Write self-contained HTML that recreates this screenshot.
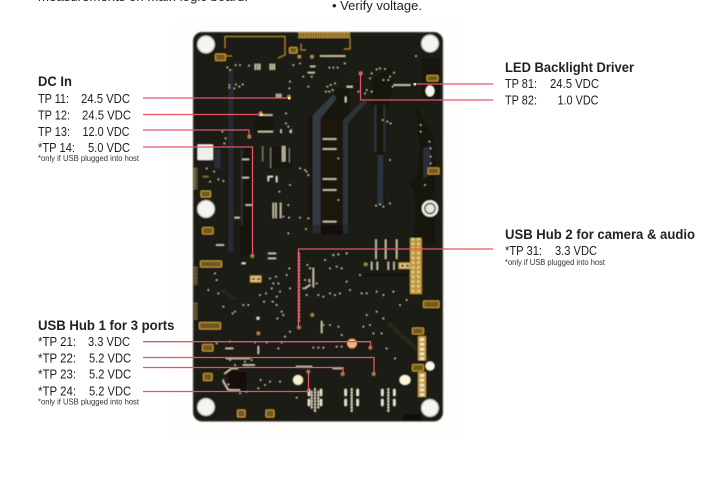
<!DOCTYPE html>
<html>
<head>
<meta charset="utf-8">
<style>
html,body{margin:0;padding:0;background:#fff;width:713px;height:481px;overflow:hidden}
svg{display:block}
text{font-family:"Liberation Sans",sans-serif;fill:#1e1e1e}
.h{font-size:14px;font-weight:bold;fill:#222}
.t{font-size:13px}
.f{font-size:8px;fill:#333}
.r{fill:none;stroke:#e6536a;stroke-width:1.300}
.g{fill:#6f5a24;stroke:#c8982f;stroke-width:1.100}
.c{fill:#d9c78c;stroke:#c8982f;stroke-width:1}
</style>
</head>
<body>
<svg width="713" height="481" viewBox="0 0 713 481" xmlns="http://www.w3.org/2000/svg">
<defs><filter id="b" x="-5%" y="-5%" width="110%" height="110%"><feGaussianBlur stdDeviation="0.45"/></filter></defs>
<rect x="172" y="22" width="292" height="416" fill="#fffefd"/>
<g filter="url(#b)">
<rect x="193" y="32" width="250" height="389.500" rx="9" fill="#1f1c13" stroke="#8c8a78" stroke-width=".6"/>

<!-- slots and dark structures, reference zoom coordinates -->
<g transform="translate(190 25) scale(.33333)">
<path d="M355 280 L445 190 L480 190 L480 600 L355 600Z" fill="#16150f"/>
<path d="M368 270 L430 208 L440 220 L392 280 L392 600 L368 600Z" fill="#343a45"/>
<path d="M459 285 L520 225 L530 232 L475 292 L475 600 L459 600Z" fill="#2d323b"/>
<path d="M392 280 L392 600 L459 600 L459 285 Z" fill="#1a1811"/>
<path d="M548 160 L605 125 L608 190 L585 290 L580 380 L585 540 L560 540 L560 385 L550 380Z" fill="#151410"/>
<path d="M552 240 L560 240 L560 380 L552 380Z M580 240 L586 240 L586 380 L580 380Z M562 390 L580 390 L580 540 L562 540Z" fill="#2b313c"/>
<path d="M115 130 L130 130 L130 600 L115 600Z" fill="#272b32"/>
<path d="M150 370 L185 370 L185 600 L150 600Z" fill="#15140f"/>
<path d="M152 370 L158 370 L158 600 L152 600Z M73 372 L92 372 L92 430 L73 430Z" fill="#2a2f37"/>
<path d="M676 240 L735 340 L735 600 L676 600 L676 510 L655 470 L680 450 L690 370Z" fill="#181710"/>
<path d="M700 370 L722 362 L722 450 L700 460Z" fill="#2a2f37"/>
<path d="M195 275 H250 V325 H195Z M240 365 H305 V430 H240Z" fill="#16150e"/>
<path d="M695 100 H750 V220 H695Z" fill="#191811"/>
</g>
<g transform="translate(190 225) scale(.33333)">
<path d="M115 0 H130 V80 H115Z M368 0 H392 V25 H368Z M459 0 H475 V25 H459Z" fill="#272b32"/>
<path d="M392 0 H459 V30 H392Z" fill="#12110c"/>
<path d="M150 0 H185 V90 H150Z M675 0 H735 V60 H675Z" fill="#15140f"/>
<path d="M600 290 L720 400 L712 408 L590 300Z M95 190 L140 220 L135 226 L90 196Z" fill="#2a281d"/>
<path d="M520 145 H650 V155 H520Z" fill="#14130e"/>
<path d="M115 440 H170 V500 H115Z" fill="#12110c"/>
</g>

<!-- gold outline / comb -->
<path d="M225 48 V36.500 H285 V48 M225 56 H232 M285 48 V55 L278 58 M301 44 V50 H306 M350 38 V49 H344" fill="none" stroke="#a8802c" stroke-width="1"/>
<rect x="298" y="32" width="52" height="6" fill="#b78f3f"/>
<path d="M298 35 H350" stroke="#4a3a18" stroke-width="4" stroke-dasharray="1 1.500"/>

<!-- gold labels -->
<rect class="g" x="215.500" y="54" width="10" height="6.500" rx="1"/>
<rect class="g" x="289.500" y="47.500" width="7.500" height="5.500" rx="1"/>
<rect class="g" x="427" y="75.500" width="11" height="5.500" rx="1"/>
<rect class="g" x="201" y="191" width="9.500" height="6" rx="1"/>
<rect class="g" x="202.500" y="227.500" width="10.500" height="6.500" rx="1"/>
<rect class="g" x="428" y="168" width="11" height="6" rx="1"/>
<rect class="g" x="200.500" y="261" width="21" height="6" rx="1"/>
<rect class="g" x="199.500" y="322.500" width="21" height="6.500" rx="1"/>
<rect class="g" x="202.500" y="344.500" width="10.500" height="6.500" rx="1"/>
<rect class="g" x="203.500" y="373.500" width="8.500" height="7" rx="1"/>
<rect class="g" x="237.500" y="410" width="7.500" height="7" rx="1"/>
<rect class="g" x="266" y="410" width="8" height="7" rx="1"/>
<rect class="g" x="423.500" y="301" width="15.500" height="6.500" rx="1"/>
<rect class="g" x="412.500" y="328" width="11" height="6" rx="1"/>
<rect class="g" x="412.500" y="364.500" width="11" height="6.500" rx="1"/>
<rect class="c" x="250.500" y="276" width="10.500" height="6"/>
<rect class="c" x="399" y="263" width="11" height="5.500"/>
<path d="M253 279h1M258 279h1M402 265.700h1M407 265.700h1" stroke="#3a3016" stroke-width="2" stroke-linecap="round"/>
<rect x="197.500" y="144.500" width="15.500" height="15.500" rx="1" fill="#f0efea"/>
<rect x="403" y="414" width="18" height="7" fill="#0b0b09"/>

<!-- header -->
<rect x="410" y="238" width="11.800" height="56" fill="#c59733"/>
<path d="M413 238V294M418.500 238V294" stroke="#d8d2b0" stroke-width="2.600" stroke-dasharray="2.300 2.400"/>
<!-- 5-pin connectors -->
<rect x="418" y="336" width="8" height="24.500" fill="#c59733"/>
<rect x="418" y="372" width="8" height="25" fill="#c59733"/>
<path d="M422 338V360M422 374V396" stroke="#e9e6d2" stroke-width="4.500" stroke-dasharray="3 1.800"/>
<!-- side pads -->
<path d="M195.500 168V190M195.500 267V285M195.500 303V320" stroke="#8a7a44" stroke-width="4" stroke-dasharray="1 1.200"/>

<!-- mounting holes -->
<g fill="#f5f4ee" stroke="#c8c6b8" stroke-width="1">
<circle cx="206" cy="44.500" r="8.500"/>
<circle cx="430" cy="43.500" r="8.500"/>
<circle cx="206" cy="209" r="8.500"/>
<circle cx="206" cy="407" r="8.500"/>
<circle cx="430" cy="408" r="8.500"/>
</g>
<circle cx="430" cy="208.500" r="7" fill="#1a1914" stroke="#efeee6" stroke-width="2.500"/>
<circle cx="430" cy="208.500" r="4.500" fill="#e8e6d8"/>
<ellipse cx="430" cy="91" rx="4.500" ry="5.500" fill="#f7f6ee"/>
<ellipse cx="298" cy="380" rx="5" ry="5" fill="#f7efc9"/>
<ellipse cx="405" cy="380" rx="5.500" ry="5" fill="#fbf6dc"/>
<circle cx="430" cy="366" r="4.500" fill="#fbf8e8"/>
<circle cx="352" cy="343.500" r="4.800" fill="#f2b784"/>

<!-- vias -->
<g transform="translate(190 25) scale(.33333)" fill="none" stroke="#d6d0b2" stroke-width="4.500" stroke-linecap="round">
<path d="M112 127h.1M120 135h.1M137 120h.1M150 120h.1M177 122h.1M118 180h.1M133 190h.1M148 185h.1M158 178h.1M118 188h.1M138 178h.1M310 120h.1M330 115h.1M300 170h.1M298 190h.1M355 185h.1M365 155h.1M340 155h.1M418 128h.1M430 128h.1M443 128h.1M464 115h.1M678 93h.1M612 143h.1M600 155h.1M595 165h.1M545 145h.1M540 160h.1M530 195h.1M505 200h.1M525 205h.1M545 200h.1M580 165h.1M570 130h.1M560 133h.1M585 132h.1M608 185h.1M692 300h.1M692 320h.1M718 350h.1M722 370h.1M722 395h.1M722 415h.1M705 480h.1M600 405h.1M600 535h.1M580 545h.1M558 542h.1M570 538h.1M445 400h.1M445 525h.1M288 265h.1M288 295h.1M295 305h.1M300 320h.1M97 320h.1M107 340h.1M103 355h.1M50 430h.1M72 440h.1M85 463h.1M100 468h.1M60 470h.1M350 440h.1M345 435h.1M330 430h.1M355 450h.1M300 480h.1M280 575h.1M297 578h.1M330 578h.1M355 580h.1M412 185h.1M422 180h.1M435 175h.1M408 200h.1M418 200h.1M428 195h.1M578 285h.1M592 290h.1M602 295h.1M268 500h.1M295 540h.1"/>
<path d="M196 118V135M203 118V135M209 118V135M241 118V135M247 118V135M253 118V135M260 208V218M266 208V218M272 208V218M273 315V322M303 315V322M278 365V408M284 365V408M250 535V578M258 535V578M272 535V578" stroke-dasharray="2.500 3.500"/>
<path d="M355 143h18M362 124h12M392 93h75M205 320h45M612 180h48M400 342h40M400 372h40M400 462h40M400 495h40M400 590h40M208 270h40M158 403h20M158 458h20M168 540h20M135 578h14" stroke-dasharray="2.500 2.500"/>
<path d="M242 368V428M218 365V408M298 370V412" stroke="#8f8b78" stroke-width="3"/>
<path d="M470 185h18M467 215V232" stroke="#dcd8c4" stroke-width="5" stroke-linecap="butt"/>
<path d="M467 160h.1M393 222h.1" stroke="#e5e1cc" stroke-width="10" stroke-linecap="butt"/>
<path d="M235 467V455H247M260 455V470" stroke="#e5e1cc" stroke-width="4.500"/>
<path d="M328 95h.1M366 95h.1M178 335h.1M297 215h.1M212 265h.1M512 145h.1" stroke="#b18f45" stroke-width="11"/>
<path d="M40 455h14M12 435V495" stroke="#7d7350" stroke-width="5" stroke-dasharray="2 2"/>
</g>
<g transform="translate(190 225) scale(.33333)" fill="none" stroke="#d6d0b2" stroke-width="4.500" stroke-linecap="round">
<path d="M75 145h.1M80 165h.1M55 195h.1M85 205h.1M100 245h.1M128 265h.1M135 260h.1M160 240h.1M175 240h.1M210 210h.1M228 205h.1M240 160h.1M258 155h.1M250 175h.1M265 175h.1M245 190h.1M270 200h.1M222 230h.1M260 215h.1M248 230h.1M260 240h.1M275 260h.1M262 280h.1M280 270h.1M295 25h.1M348 12h.1M298 130h.1M290 150h.1M300 190h.1M352 120h.1M345 165h.1M358 170h.1M340 190h.1M350 210h.1M380 175h.1M385 210h.1M400 215h.1M420 205h.1M435 210h.1M450 205h.1M470 170h.1M480 195h.1M455 130h.1M440 125h.1M420 130h.1M405 105h.1M510 150h.1M515 205h.1M530 205h.1M560 200h.1M580 210h.1M610 200h.1M630 240h.1M650 225h.1M530 270h.1M560 260h.1M580 280h.1M540 300h.1M550 325h.1M575 325h.1M520 305h.1M400 300h.1M420 300h.1M445 305h.1M455 330h.1M300 320h.1M285 335h.1M275 352h.1M230 352h.1M195 352h.1M120 350h.1M80 355h.1M265 370h.1M370 368h.1M385 368h.1M400 368h.1M440 365h.1M455 365h.1M615 400h.1M590 370h.1M120 405h.1M135 420h.1M165 410h.1M185 405h.1M105 445h.1M100 465h.1M115 478h.1M125 495h.1M150 505h.1M170 500h.1M212 465h.1M240 470h.1M270 470h.1M320 518h.1M205 490h.1M225 480h.1"/>
<path d="M236 85h22M236 100h22M80 60h20M120 370h8M108 370h8M205 365V385M110 400h70M160 420h35M430 430h30M320 425h45" stroke-dasharray="2.500 3.500"/>
<path d="M558 45V100M587 45V100M620 45V100M545 112V135M562 112V135M595 112V135M612 112V135M370 130V185M345 190L360 180M395 290V325" stroke-dasharray="2.500 3.500"/>
<path d="M327 85V290" stroke="#c9c3a5" stroke-dasharray="3 7"/>
<path d="M430 90h.1M445 88h.1M470 85h.1M360 130h.1M358 165h.1" stroke-width="5"/>
<path d="M105 445L125 430H145M100 470L115 495H150" stroke-dasharray="2.500 2.500"/>
<path d="M155 115h12" stroke="#e9e6d8" stroke-width="5" stroke-linecap="butt"/>
<path d="M200 280h8" stroke="#e9e6d8" stroke-width="8" stroke-linecap="butt"/>
<path d="M187 93h.1M327 307h.1M527 118h.1M367 270h.1M205 325h.1M541 368h.1M551 447h.1M458 447h.1M355 440h.1" stroke="#a5864a" stroke-width="11"/>
<!-- usb pad clusters -->
<path d="M357 495V510M357 525V540M393 495V510M393 525V540M467 495V510M467 525V540M503 495V510M503 525V540M577 495V510M577 525V540M613 495V510M613 525V540" stroke="#eee9cf" stroke-width="7"/>
<path d="M375 492V558M485 492V558M595 492V558M365 500V550M385 500V550" stroke="#e8e3c8" stroke-width="5" stroke-dasharray="3 6"/>
</g>
</g>

<!-- red leaders -->
<path class="r" d="M143 98H289M143 114.500H261M143 130H249V137M143 147H252.500V255"/>
<path class="r" d="M414 84H493M360.500 72V100H493M298.500 327V249H493"/>
<path class="r" d="M143 341.700H370.500V349M143 357.500H374V373M143 367.500H343V375M143 391.500H308.500V373"/>
<g fill="#f2e2a0"><rect x="288" y="97" width="2.500" height="2.500"/><rect x="260" y="113.500" width="2.500" height="2.500"/><rect x="413.500" y="83" width="2.500" height="2.500"/></g>

<!-- text -->
<text class="t" x="38" y="1" textLength="210" lengthAdjust="spacingAndGlyphs">measurements on main logic board.</text>
<text class="t" x="332" y="10" textLength="90" lengthAdjust="spacingAndGlyphs">• Verify voltage.</text>

<text class="h" x="38" y="86" textLength="34" lengthAdjust="spacingAndGlyphs">DC In</text>
<text class="t" x="38" y="103" textLength="31" lengthAdjust="spacingAndGlyphs">TP 11:</text><text class="t" x="81" y="103" textLength="49" lengthAdjust="spacingAndGlyphs">24.5 VDC</text>
<text class="t" x="38" y="119.500" textLength="32" lengthAdjust="spacingAndGlyphs">TP 12:</text><text class="t" x="82" y="119.500" textLength="49" lengthAdjust="spacingAndGlyphs">24.5 VDC</text>
<text class="t" x="38" y="136" textLength="32" lengthAdjust="spacingAndGlyphs">TP 13:</text><text class="t" x="82.500" y="136" textLength="47" lengthAdjust="spacingAndGlyphs">12.0 VDC</text>
<text class="t" x="38" y="152" textLength="37" lengthAdjust="spacingAndGlyphs">*TP 14:</text><text class="t" x="88" y="152" textLength="42" lengthAdjust="spacingAndGlyphs">5.0 VDC</text>
<text class="f" x="38" y="161" textLength="101" lengthAdjust="spacingAndGlyphs">*only if USB plugged into host</text>

<text class="h" x="505" y="72" textLength="129" lengthAdjust="spacingAndGlyphs">LED Backlight Driver</text>
<text class="t" x="505" y="88" textLength="32" lengthAdjust="spacingAndGlyphs">TP 81:</text><text class="t" x="550" y="88" textLength="49" lengthAdjust="spacingAndGlyphs">24.5 VDC</text>
<text class="t" x="505" y="104.500" textLength="32" lengthAdjust="spacingAndGlyphs">TP 82:</text><text class="t" x="557.500" y="104.500" textLength="41" lengthAdjust="spacingAndGlyphs">1.0 VDC</text>

<text class="h" x="505" y="239" textLength="190" lengthAdjust="spacingAndGlyphs">USB Hub 2 for camera &amp; audio</text>
<text class="t" x="505" y="255" textLength="37" lengthAdjust="spacingAndGlyphs">*TP 31:</text><text class="t" x="555" y="255" textLength="42" lengthAdjust="spacingAndGlyphs">3.3 VDC</text>
<text class="f" x="505" y="265" textLength="100" lengthAdjust="spacingAndGlyphs">*only if USB plugged into host</text>

<text class="h" x="38" y="330" textLength="136.500" lengthAdjust="spacingAndGlyphs">USB Hub 1 for 3 ports</text>
<text class="t" x="38" y="346" textLength="38" lengthAdjust="spacingAndGlyphs">*TP 21:</text><text class="t" x="88" y="346" textLength="42" lengthAdjust="spacingAndGlyphs">3.3 VDC</text>
<text class="t" x="38" y="362.500" textLength="38" lengthAdjust="spacingAndGlyphs">*TP 22:</text><text class="t" x="89" y="362.500" textLength="42" lengthAdjust="spacingAndGlyphs">5.2 VDC</text>
<text class="t" x="38" y="378.500" textLength="38" lengthAdjust="spacingAndGlyphs">*TP 23:</text><text class="t" x="89" y="378.500" textLength="42" lengthAdjust="spacingAndGlyphs">5.2 VDC</text>
<text class="t" x="38" y="395.500" textLength="38" lengthAdjust="spacingAndGlyphs">*TP 24:</text><text class="t" x="89" y="395.500" textLength="42" lengthAdjust="spacingAndGlyphs">5.2 VDC</text>
<text class="f" x="38" y="404.500" textLength="101" lengthAdjust="spacingAndGlyphs">*only if USB plugged into host</text>
</svg>
</body>
</html>
